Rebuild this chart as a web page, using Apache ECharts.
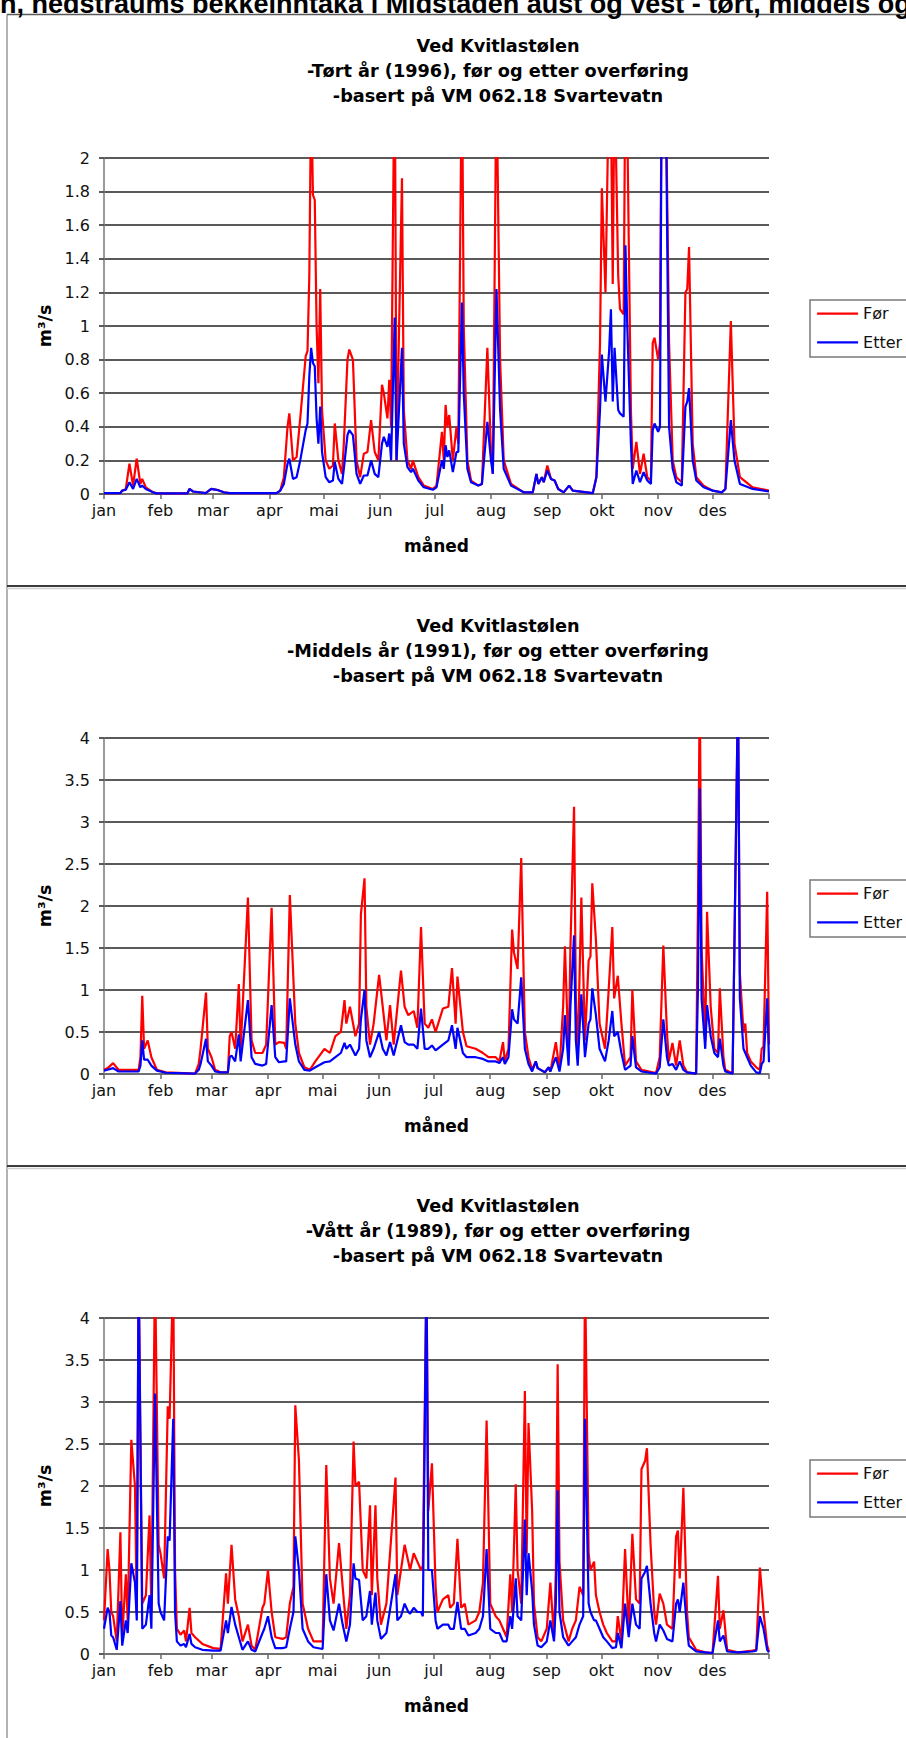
<!DOCTYPE html>
<html>
<head>
<meta charset="utf-8">
<script src="https://cdn.jsdelivr.net/npm/echarts@6/dist/echarts.min.js"></script>
<style>
html,body{margin:0;padding:0;background:#fff;overflow:hidden;}
#c{width:906px;height:1738px;}
</style>
</head>
<body>
<div id="c"></div>
<script>
// ---------- labels ----------
const months = ['jan','feb','mar','apr','mai','jun','jul','aug','sep','okt','nov','des'];
const monthStartsLeap = [0,31,60,91,121,152,182,213,244,274,305,335,366];
const monthStarts = [0,31,59,90,120,151,181,212,243,273,304,334,365];
const headingText = 'n, nedstraums bekkeinntaka i Midstaden aust og vest - tørt, middels og vått år';
const titleLine1 = 'Ved Kvitlastølen';
const titleLine2 = ['-Tørt år (1996), før og etter overføring', '-Middels år (1991), før og etter overføring', '-Vått år (1989), før og etter overføring'];
const titleLine3 = '-basert på VM 062.18 Svartevatn';
const seriesNames = ['Før', 'Etter'];
const yName = 'm³/s';
const xName = 'måned';
const yMaxes = [2, 4, 4];
const ySteps = [0.2, 0.5, 0.5];

// ---------- Tørt år 1996 (day of year) ----------
const dryDays  = [0,9,10,12,14,16,18,20,21,23,27,29,46,47,49,56,59,62,66,69,95,97,99,101,102,104,106,108,111,112,113,114,115,116,117,118,119,120,122,124,126,127,129,131,132,134,135,137,139,141,143,145,147,149,151,153,154,156,157,158,160,161,164,165,167,169,170,173,176,181,183,186,187,188,189,190,192,194,195,197,198,200,202,206,208,211,213,214,216,218,220,224,231,236,238,239,241,242,244,246,248,250,253,256,258,269,271,273,274,276,278,279,280,281,283,284,286,287,288,290,291,293,295,297,299,301,302,303,305,306,307,309,311,313,315,318,320,321,322,324,326,330,335,340,342,345,347,350,357,366];
const dryFor   = [0.005,0.005,0.02,0.03,0.18,0.05,0.21,0.06,0.09,0.04,0.01,0.004,0.004,0.03,0.015,0.005,0.03,0.025,0.01,0.005,0.005,0.02,0.1,0.4,0.48,0.2,0.22,0.45,0.82,0.85,1.3,2.4,1.78,1.75,1.0,0.66,1.22,0.5,0.2,0.15,0.17,0.42,0.2,0.12,0.3,0.8,0.86,0.8,0.2,0.1,0.24,0.25,0.44,0.25,0.2,0.65,0.6,0.45,0.68,0.4,2.7,0.2,1.88,0.5,0.2,0.15,0.2,0.1,0.05,0.03,0.05,0.37,0.2,0.53,0.4,0.47,0.2,0.4,0.3,2.6,1.0,0.2,0.08,0.05,0.06,0.87,0.25,0.12,2.5,0.8,0.2,0.06,0.01,0.01,0.12,0.06,0.1,0.07,0.17,0.09,0.08,0.03,0.01,0.05,0.02,0.005,0.1,0.9,1.82,1.2,2.5,2.3,1.25,2.5,1.3,1.1,1.07,2.6,2.2,0.5,0.15,0.31,0.12,0.24,0.1,0.08,0.9,0.93,0.8,0.9,2.6,2.6,0.9,0.2,0.1,0.07,1.2,1.22,1.47,0.3,0.1,0.05,0.02,0.01,0.03,1.03,0.3,0.1,0.04,0.02];
const dryEtter = [0.005,0.005,0.02,0.025,0.07,0.03,0.09,0.04,0.05,0.03,0.01,0.004,0.004,0.03,0.015,0.005,0.03,0.025,0.01,0.005,0.005,0.02,0.06,0.18,0.21,0.09,0.1,0.2,0.38,0.42,0.7,0.87,0.78,0.76,0.45,0.3,0.52,0.25,0.1,0.07,0.08,0.19,0.09,0.06,0.15,0.35,0.38,0.35,0.12,0.06,0.11,0.11,0.2,0.12,0.1,0.3,0.34,0.28,0.36,0.2,1.05,0.2,0.87,0.3,0.16,0.13,0.15,0.08,0.04,0.025,0.04,0.2,0.15,0.29,0.22,0.26,0.13,0.25,0.25,1.14,0.6,0.15,0.07,0.05,0.06,0.43,0.2,0.12,1.22,0.5,0.15,0.05,0.01,0.01,0.12,0.06,0.1,0.07,0.14,0.09,0.08,0.03,0.01,0.05,0.02,0.005,0.1,0.5,0.83,0.55,0.85,1.1,0.55,0.87,0.5,0.48,0.46,1.48,1.0,0.3,0.06,0.14,0.07,0.13,0.08,0.06,0.38,0.42,0.37,0.4,2.6,2.6,0.4,0.15,0.07,0.05,0.52,0.55,0.63,0.2,0.08,0.04,0.02,0.01,0.03,0.44,0.2,0.06,0.03,0.015];

// ---------- Middels år 1991 ----------
const midDays  = [0,2,5,8,10,19,20,21,22,24,26,29,34,50,52,53,56,57,59,61,64,68,69,70,72,74,75,79,81,83,87,89,92,94,96,99,100,102,105,107,110,113,116,121,124,127,130,132,133,135,138,140,141,143,144,146,148,151,153,155,157,159,163,165,167,170,172,174,176,178,180,182,186,189,191,193,194,197,199,204,208,211,215,217,219,220,222,224,225,227,229,231,233,235,237,238,242,244,245,248,250,252,253,255,256,258,259,260,262,264,266,267,268,270,272,275,277,279,280,282,284,286,289,290,292,295,303,305,307,309,310,312,314,316,318,320,325,326,327,328,330,331,333,335,337,338,340,341,345,346,348,349,351,352,353,355,358,360,361,362,364,365];
const midFor   = [0.05,0.07,0.13,0.05,0.05,0.05,0.2,0.93,0.3,0.4,0.2,0.05,0.02,0.005,0.12,0.3,0.97,0.3,0.2,0.05,0.02,0.02,0.45,0.5,0.3,1.07,0.3,2.1,0.4,0.25,0.25,0.35,1.98,0.35,0.38,0.37,0.3,2.13,0.6,0.25,0.08,0.05,0.15,0.3,0.25,0.45,0.5,0.88,0.6,0.8,0.45,0.6,1.9,2.33,0.8,0.35,0.6,1.18,0.8,0.4,0.82,0.35,1.23,0.8,0.7,0.75,0.55,1.75,0.6,0.55,0.65,0.5,0.78,0.8,1.26,0.6,1.16,0.5,0.33,0.3,0.25,0.2,0.2,0.15,0.38,0.15,0.3,1.72,1.45,1.25,2.57,0.5,0.2,0.05,0.15,0.07,0.02,0.08,0.03,0.38,0.05,0.8,1.52,0.2,1.5,3.18,0.9,0.2,2.1,0.4,1.35,1.4,2.27,1.6,0.6,0.3,1.0,1.75,0.9,1.17,0.6,0.1,0.2,1.0,0.15,0.05,0.01,0.2,1.53,0.5,0.15,0.37,0.1,0.4,0.1,0.02,0.005,2.0,4.6,1.5,0.4,1.93,0.8,0.3,0.25,1.02,0.2,0.05,0.005,1.5,4.6,1.2,0.5,0.6,0.25,0.15,0.08,0.05,0.3,0.33,2.17,0.35];
const midEtter = [0.04,0.05,0.07,0.03,0.03,0.03,0.1,0.4,0.17,0.17,0.1,0.04,0.015,0.005,0.05,0.12,0.42,0.15,0.1,0.03,0.02,0.02,0.2,0.22,0.15,0.47,0.15,0.88,0.2,0.12,0.1,0.12,0.82,0.2,0.14,0.15,0.15,0.9,0.35,0.15,0.05,0.04,0.08,0.14,0.15,0.2,0.25,0.37,0.3,0.35,0.22,0.3,0.65,1.0,0.4,0.2,0.3,0.5,0.3,0.22,0.38,0.22,0.58,0.38,0.35,0.35,0.3,0.78,0.3,0.3,0.34,0.28,0.35,0.4,0.58,0.3,0.55,0.25,0.2,0.2,0.18,0.15,0.15,0.13,0.2,0.12,0.2,0.77,0.65,0.6,1.15,0.3,0.12,0.03,0.15,0.07,0.02,0.08,0.03,0.2,0.03,0.3,0.7,0.1,0.8,1.65,0.4,0.1,0.95,0.2,0.6,0.65,1.02,0.7,0.3,0.15,0.4,0.75,0.45,0.5,0.25,0.05,0.1,0.45,0.08,0.03,0.005,0.08,0.65,0.2,0.1,0.12,0.05,0.15,0.05,0.02,0.005,1.0,3.4,0.9,0.3,0.82,0.45,0.25,0.2,0.42,0.1,0.03,0.005,1.5,4.6,0.9,0.3,0.25,0.2,0.1,0.02,0.01,0.12,0.15,0.9,0.14];

// ---------- Vått år 1989 ----------
const wetDays  = [0,2,3,4,5,7,9,10,12,13,15,17,18,19,21,23,25,26,28,30,31,33,35,36,38,39,40,42,44,45,47,48,50,54,60,64,67,68,70,72,74,76,79,81,83,87,88,90,92,94,98,100,102,104,105,107,109,112,115,120,122,124,126,129,131,133,135,137,138,140,142,144,146,147,149,150,152,155,160,161,163,165,167,168,170,172,174,175,177,178,180,182,183,186,189,190,192,194,196,198,200,204,206,208,210,212,215,217,219,221,223,224,226,227,229,231,232,233,235,236,238,240,243,245,247,248,249,250,252,255,257,259,261,263,264,266,267,269,270,272,274,276,279,281,282,284,286,288,290,292,294,295,297,298,300,302,303,305,307,309,312,314,315,316,318,320,321,325,330,334,337,338,340,342,348,356,358,360,362,364,365];
const wetFor   = [0.4,1.25,1.0,0.5,0.45,0.15,1.45,0.2,0.95,0.4,2.55,2.0,0.5,4.6,0.6,0.7,1.65,0.5,4.6,1.3,1.2,0.9,2.95,2.8,4.6,1.0,0.3,0.23,0.28,0.15,0.55,0.25,0.2,0.12,0.07,0.06,0.96,0.6,1.3,0.65,0.45,0.15,0.35,0.1,0.05,0.55,0.6,1.0,0.5,0.2,0.18,0.2,0.6,0.8,2.96,2.3,0.6,0.3,0.15,0.15,2.25,0.9,0.6,1.32,0.8,0.3,0.7,2.53,2.0,2.05,1.0,0.9,1.77,0.7,1.77,0.9,0.35,0.6,2.1,0.7,1.0,1.3,1.1,1.0,1.2,1.1,1.0,1.05,4.6,1.7,2.27,0.8,0.5,0.65,0.7,0.55,0.6,1.37,0.55,0.6,0.35,0.4,0.5,0.85,2.78,0.6,0.45,0.4,0.3,0.2,0.95,0.5,2.02,1.0,0.6,3.13,1.2,2.75,1.7,0.6,0.2,0.15,0.3,0.85,0.2,1.0,3.45,1.1,0.4,0.15,0.3,0.4,0.8,0.7,4.6,1.2,1.0,1.1,0.7,0.5,0.35,0.25,0.15,0.15,0.45,0.15,1.25,0.3,1.43,0.65,0.6,2.2,2.3,2.45,1.3,0.5,0.35,0.72,0.6,0.35,0.3,1.4,1.47,0.9,1.98,0.5,0.2,0.05,0.02,0.01,0.93,0.3,0.52,0.05,0.02,0.04,0.05,1.03,0.5,0.1,0.03];
const wetEtter = [0.3,0.55,0.5,0.22,0.2,0.05,0.63,0.1,0.4,0.25,1.08,0.85,0.4,4.6,0.3,0.35,0.7,0.3,3.1,0.6,0.5,0.4,1.4,1.35,2.8,0.5,0.15,0.1,0.12,0.08,0.24,0.12,0.08,0.05,0.04,0.04,0.4,0.25,0.56,0.35,0.2,0.05,0.15,0.05,0.03,0.25,0.3,0.45,0.2,0.07,0.07,0.08,0.3,0.5,1.4,1.0,0.3,0.15,0.08,0.06,0.95,0.4,0.28,0.6,0.35,0.15,0.35,1.08,0.9,0.88,0.4,0.45,0.75,0.35,0.73,0.4,0.18,0.25,0.95,0.4,0.45,0.6,0.5,0.48,0.55,0.5,0.5,0.45,4.6,1.0,1.0,0.4,0.3,0.35,0.35,0.3,0.3,0.62,0.3,0.3,0.22,0.25,0.3,0.45,1.25,0.3,0.25,0.25,0.15,0.15,0.45,0.3,0.9,0.45,0.4,1.6,0.7,1.2,0.75,0.35,0.1,0.08,0.15,0.4,0.15,0.6,1.95,0.5,0.2,0.1,0.15,0.2,0.35,0.45,2.8,0.6,0.5,0.4,0.4,0.3,0.2,0.15,0.07,0.08,0.25,0.07,0.6,0.2,0.6,0.35,0.3,0.9,0.98,1.05,0.6,0.25,0.15,0.35,0.28,0.18,0.15,0.6,0.65,0.5,0.85,0.3,0.1,0.03,0.02,0.01,0.4,0.15,0.22,0.03,0.02,0.03,0.04,0.45,0.3,0.05,0.02];

const charts = [
  {days: dryDays, f: dryFor, e: dryEtter, ticks: monthStartsLeap},
  {days: midDays, f: midFor, e: midEtter, ticks: monthStarts},
  {days: wetDays, f: wetFor, e: wetEtter, ticks: monthStarts}
];

const FONT = '"DejaVu Sans", Verdana, sans-serif';
const STEP = 580;
const grids = [], xAxes = [], yAxes = [], series = [], legends = [], graphics = [];

// page decorations (the heading above the first chart is cut by the page edge, as in the original)
graphics.push({type:'text', x:0, y:17, style:{text: headingText, font:'bold 27px "Liberation Sans", Arial, sans-serif', fill:'#000', textVerticalAlign:'bottom'}, z:10});
graphics.push({type:'line', shape:{x1:7, y1:14.5, x2:7, y2:1738}, style:{stroke:'#9a9a9a', lineWidth:1.5}});
graphics.push({type:'line', shape:{x1:7, y1:14.5, x2:906, y2:14.5}, style:{stroke:'#5a5a5a', lineWidth:1.5}});

charts.forEach((c, k) => {
  const off = STEP * k;
  if (k > 0) {
    graphics.push({type:'line', shape:{x1:7, y1:6 + off, x2:906, y2:6 + off}, style:{stroke:'#3c3c3c', lineWidth:2}});
    graphics.push({type:'line', shape:{x1:7, y1:8.5 + off, x2:906, y2:8.5 + off}, style:{stroke:'#cfcfcf', lineWidth:1.5}});
  }
  [titleLine1, titleLine2[k], titleLine3].forEach((t, j) => {
    graphics.push({type:'text', x:498, y:45.5 + j*25 + off, style:{text:t, font:'bold 17.7px ' + FONT, fill:'#000', textAlign:'center', textVerticalAlign:'middle'}});
  });
  grids.push({left:104, top:158 + off, width:665, height:336, containLabel:false});
  const lastTick = c.ticks[c.ticks.length - 1];
  xAxes.push({
    type:'value', gridIndex:k, min:0, max:lastTick,
    name:xName, nameLocation:'middle', nameGap:43,
    nameTextStyle:{fontFamily:FONT, fontWeight:'bold', fontSize:17, color:'#000'},
    axisLine:{show:true, onZero:false, lineStyle:{color:'#7a7a7a', width:1.5}},
    axisTick:{show:true, length:5, customValues:c.ticks, lineStyle:{color:'#6a6a6a', width:1.5}},
    axisLabel:{show:true, margin:8, customValues:c.ticks.slice(0, 12), fontFamily:FONT, fontSize:16, color:'#111',
      formatter:(v) => months[c.ticks.indexOf(v)] || ''},
    splitLine:{show:false}
  });
  yAxes.push({
    type:'value', gridIndex:k, min:0, max:yMaxes[k], interval:ySteps[k],
    name:yName, nameLocation:'middle', nameGap:44, nameRotate:90,
    nameTextStyle:{fontFamily:FONT, fontWeight:'bold', fontSize:17.5, color:'#000'},
    axisLine:{show:true, lineStyle:{color:'#7a7a7a', width:1.5}},
    axisTick:{show:true, length:5, lineStyle:{color:'#5a5a5a', width:2}},
    axisLabel:{margin:14, fontFamily:FONT, fontSize:16, color:'#111'},
    splitLine:{show:true, lineStyle:{color:'#5a5a5a', width:2}}
  });
  series.push({
    name:seriesNames[0], type:'line', xAxisIndex:k, yAxisIndex:k, symbol:'none', clip:true,
    lineStyle:{color:'#ff0000', width:2.2}, itemStyle:{color:'#ff0000'}, animation:false,
    data:c.days.map((d, i) => [d, c.f[i]])
  });
  series.push({
    name:seriesNames[1], type:'line', xAxisIndex:k, yAxisIndex:k, symbol:'none', clip:true,
    lineStyle:{color:'#0000ff', width:2.2}, itemStyle:{color:'#0000ff'}, animation:false,
    data:c.days.map((d, i) => [d, c.e[i]])
  });
  legends.push({
    show:true, orient:'vertical', left:810, top:300 + off,
    data:seriesNames, itemWidth:41, itemHeight:14, itemGap:12.6,
    padding:[5.7, 30, 6.7, 6],
    itemStyle:{opacity:0},
    lineStyle:{width:2.2},
    backgroundColor:'#fff', borderColor:'#7a7a7a', borderWidth:1.5, borderRadius:0,
    textStyle:{fontFamily:FONT, fontSize:16, color:'#111'},
    selectedMode:false
  });
});

const chart = echarts.init(document.getElementById('c'), null, {renderer:'svg'});
chart.setOption({
  backgroundColor:'#fff',
  animation:false,
  grid:grids, xAxis:xAxes, yAxis:yAxes, series:series, legend:legends,
  graphic:{elements:graphics}
});
</script>
</body>
</html>
